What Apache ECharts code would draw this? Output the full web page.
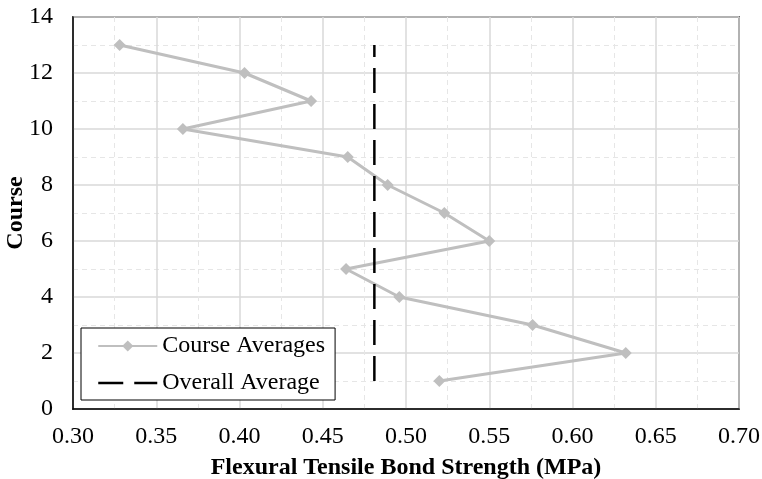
<!DOCTYPE html>
<html>
<head>
<meta charset="utf-8">
<script src="https://cdn.jsdelivr.net/npm/echarts@6/dist/echarts.min.js"></script>
<style>
html, body { margin: 0; padding: 0; background: #fff; }
#chart { width: 762px; height: 479px; }
</style>
</head>
<body>
<div id="chart"></div>
<script>
// course number (y) and the average bond strength of that course (x, MPa)
const courses = [1, 2, 3, 4, 5, 6, 7, 8, 9, 10, 11, 12, 13];
const courseAverages = [0.520, 0.632, 0.576, 0.496, 0.464, 0.550, 0.523, 0.489, 0.465, 0.366, 0.443, 0.403, 0.328];
// overall average drawn as a vertical dashed line from course 1 to 13
const overallAverage = 0.481;
const overallCourses = [1, 13];
// axis ranges
const xRange = [0.30, 0.70, 0.05];
const yRange = [0, 14, 2];

const font = '"Liberation Serif", "Times New Roman", serif';
const gray = '#bfbfbf';
const dash = [25, 11];

let myChart = echarts.init(document.getElementById('chart'));
let option = {
	animation: false,
	textStyle: { fontFamily: font },
	grid: {
		left: 73, right: 23, top: 17, bottom: 70,
		outerBoundsMode: 'none',
		containLabel: false,
		show: true,
		borderColor: '#000',
		borderWidth: 1.5
	},
	legend: {
		orient: 'vertical',
		left: 81, top: 328,
		padding: [6, 10, 5, 16],
		itemWidth: 59,
		itemHeight: 14,
		itemGap: 13,
		backgroundColor: '#fff',
		borderColor: '#000',
		borderWidth: 1,
		borderRadius: 0,
		textStyle: { fontFamily: font, fontSize: 24, color: '#000' },
		data: [
			{ name: 'Course Averages' },
			{
				name: 'Overall Average',
				itemStyle: { opacity: 0 },
				lineStyle: { color: '#000', width: 2.5, type: dash }
			}
		]
	},
	xAxis: {
		type: 'value',
		min: xRange[0], max: xRange[1], interval: xRange[2],
		name: 'Flexural Tensile Bond Strength (MPa)',
		nameLocation: 'middle',
		nameGap: 47,
		nameTextStyle: { fontFamily: font, fontSize: 24, fontWeight: 'bold', color: '#000' },
		axisLine: { lineStyle: { color: '#000', width: 1.5 } },
		axisTick: { show: false },
		axisLabel: {
			fontFamily: font, fontSize: 24, color: '#000', margin: 16,
			formatter: v => v.toFixed(2)
		},
		splitLine: { lineStyle: { color: '#d9d9d9', width: 1.5 } },
		minorTick: { show: false, splitNumber: 2 },
		minorSplitLine: { show: true, lineStyle: { color: '#e6e6e6', width: 1, type: [5, 4] } }
	},
	yAxis: {
		type: 'value',
		min: yRange[0], max: yRange[1], interval: yRange[2],
		name: 'Course',
		nameLocation: 'middle',
		nameGap: 45,
		nameMoveOverlap: false,
		nameTextStyle: { fontFamily: font, fontSize: 24, fontWeight: 'bold', color: '#000' },
		axisLine: { show: true, lineStyle: { color: '#000', width: 1.5 } },
		axisTick: { show: false },
		axisLabel: { fontFamily: font, fontSize: 24, color: '#000', margin: 20 },
		splitLine: { lineStyle: { color: '#d9d9d9', width: 1.5 } },
		minorTick: { show: false, splitNumber: 2 },
		minorSplitLine: { show: true, lineStyle: { color: '#e6e6e6', width: 1, type: [5, 4] } }
	},
	series: [
		{
			name: 'Course Averages',
			type: 'line',
			data: courses.map((c, i) => [courseAverages[i], c]),
			symbol: 'diamond',
			symbolSize: 12,
			showAllSymbol: true,
			lineStyle: { color: gray, width: 3 },
			itemStyle: { color: gray }
		},
		{
			name: 'Overall Average',
			type: 'line',
			data: overallCourses.map(c => [overallAverage, c]),
			symbol: 'none',
			lineStyle: { color: '#000', width: 2.5, type: dash },
			itemStyle: { color: '#000' }
		}
	]
};
myChart.setOption(option);
</script>
</body>
</html>
